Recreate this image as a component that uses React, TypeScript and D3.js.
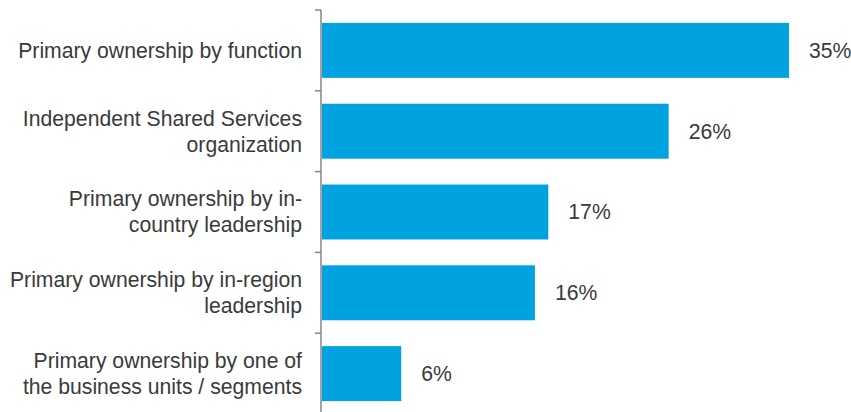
import React, { useEffect, useRef } from 'react';
import * as d3 from 'd3';

const categories = [
  ['Primary ownership by function'],
  ['Independent Shared Services', 'organization'],
  ['Primary ownership by in-', 'country leadership'],
  ['Primary ownership by in-region', 'leadership'],
  ['Primary ownership by one of', 'the business units / segments'],
];
const values = [35, 26, 17, 16, 6];
const valueLabels = ['35%', '26%', '17%', '16%', '6%'];

const W = 851;
const H = 412;
const barColor = '#00A2DF';
const textColor = '#3a3a3a';

function App() {
  const svgRef = useRef<SVGSVGElement>(null);

  useEffect(() => {
    const svg = d3.select(svgRef.current);
    svg.selectAll('*').remove();

    const left = 321;
    const top = 10;
    const bottom = 414;
    const ids = categories.map((_, i) => String(i));

    const y = d3.scaleBand().domain(ids).range([top, bottom]).paddingInner(0.32).paddingOuter(0.16);
    const x = d3.scaleLinear().domain([0, 35]).range([left, 789]);

    const font = 'Liberation Sans, Arial, sans-serif';
    const fs = 21.2;

    // bars
    svg.append('g')
      .selectAll('rect')
      .data(values)
      .join('rect')
      .attr('x', left + 1)
      .attr('y', (_, i) => y(String(i))!)
      .attr('width', d => x(d) - left - 1)
      .attr('height', y.bandwidth())
      .attr('fill', barColor);

    // axis line + ticks at band boundaries
    const axis = svg.append('g');
    axis.append('line')
      .attr('x1', left).attr('x2', left)
      .attr('y1', top).attr('y2', bottom)
      .attr('stroke', '#868686').attr('stroke-width', 1.5);
    const step = y.step();
    d3.range(categories.length).forEach(i => {
      const ty = top + i * step;
      axis.append('line')
        .attr('x1', left - 6).attr('x2', left)
        .attr('y1', ty).attr('y2', ty)
        .attr('stroke', '#868686').attr('stroke-width', 1.5);
    });

    // category labels
    const lineH = 26;
    svg.append('g')
      .selectAll('text')
      .data(categories)
      .join('text')
      .attr('text-anchor', 'end')
      .attr('font-family', font)
      .attr('font-size', fs)
      .attr('fill', textColor)
      .each(function (lines, i) {
        const cy = y(String(i))! + y.bandwidth() / 2;
        const start = cy - ((lines.length - 1) * lineH) / 2;
        d3.select(this)
          .selectAll('tspan')
          .data(lines)
          .join('tspan')
          .attr('x', 302)
          .attr('y', (_, j) => start + j * lineH)
          .attr('dy', '0.35em')
          .text(d => d);
      });

    // value labels
    svg.append('g')
      .selectAll('text')
      .data(values)
      .join('text')
      .attr('x', d => x(d) + 20)
      .attr('y', (_, i) => y(String(i))! + y.bandwidth() / 2)
      .attr('dy', '0.35em')
      .attr('font-family', font)
      .attr('font-size', fs)
      .attr('fill', textColor)
      .text((_, i) => valueLabels[i]);
  }, []);

  return (
    <svg ref={svgRef} width={W} height={H} style={{ position: 'absolute', left: 0, top: 0 }} />
  );
}

export default App;
